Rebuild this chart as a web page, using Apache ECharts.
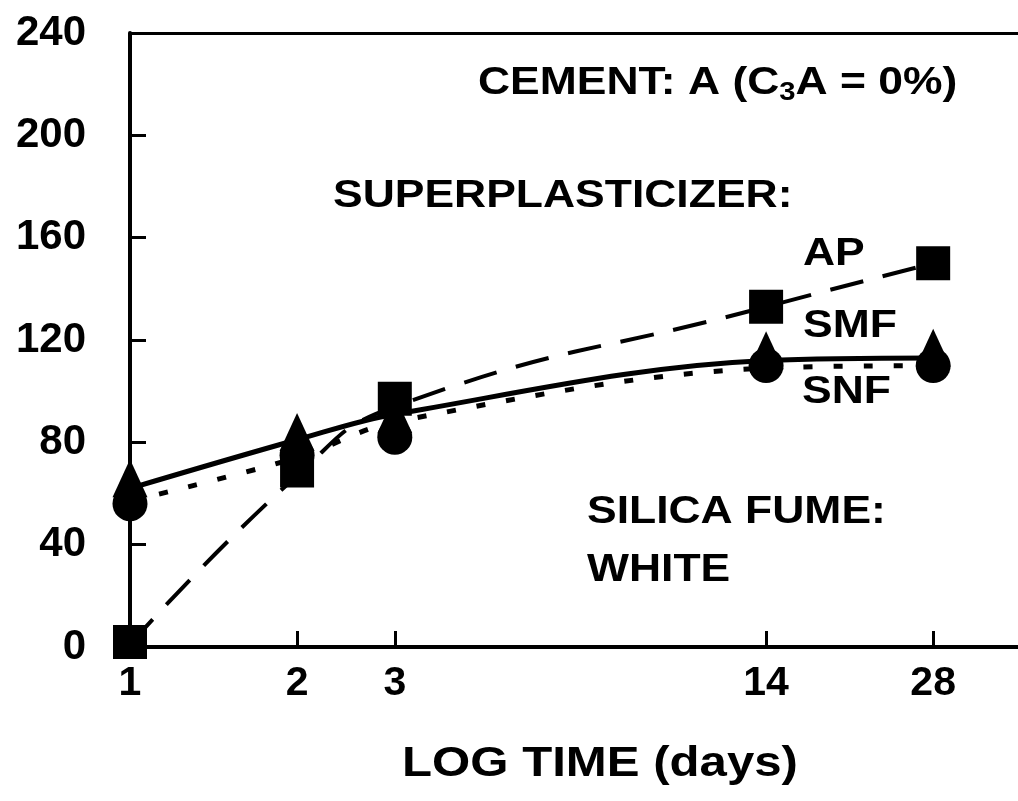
<!DOCTYPE html>
<html>
<head>
<meta charset="utf-8">
<script src="https://cdn.jsdelivr.net/npm/echarts@6/dist/echarts.min.js"></script>
<style>
  html, body { margin: 0; padding: 0; background: #fff; }
  #chart { width: 1018px; height: 801px; }
</style>
</head>
<body>
<div id="chart"></div>
<script>
// test ages (days), plotted on a log axis
var days = [1, 2, 3, 14, 28]

// measured points
var apPoints = [2, 69, 97, 133, 150]
var smfPoints = [66, 84, 91, 116, 117]
var snfPoints = [56, 75, 82, 110, 110]

// fitted curves read at the same ages
var apCurve = [1, 67, 94, 133, 150]
var smfCurve = [62, 81, 91, 112, 113]
var snfCurve = [57, 74, 88, 109, 110]

var yTicks = [0, 40, 80, 120, 160, 200, 240]

var FONT = '"Liberation Sans", Arial, sans-serif'

function pairs(vals) {
    return days.map(function (d, i) { return [Math.log10(d), vals[i]] })
}

function label(txt, x, y, align, size) {
    return {
        type: 'text',
        x: x,
        y: y,
        scaleX: 1.17,
        style: {
            text: txt,
            fill: '#000',
            font: 'bold ' + (size || 38) + 'px ' + FONT,
            align: align || 'left',
            verticalAlign: 'middle'
        }
    }
}

var echart = echarts.init(document.getElementById('chart'))

var option = {
    backgroundColor: '#fff',
    animation: false,
    grid: {
        left: 130,
        right: 0,
        top: 33,
        bottom: 154,
        containLabel: false,
        outerBoundsMode: 'none'
    },
    xAxis: [
        {
            type: 'value',
            min: 0,
            max: 1.6,
            axisLine: { lineStyle: { color: '#000', width: 4 } },
            axisTick: {
                inside: true,
                length: 16,
                lineStyle: { color: '#000', width: 3 },
                customValues: days.map(function (d) { return Math.log10(d) })
            },
            axisLabel: {
                customValues: days.map(function (d) { return Math.log10(d) }),
                formatter: function (v) { return Math.round(Math.pow(10, v)) },
                color: '#000',
                fontFamily: FONT,
                fontWeight: 'bold',
                fontSize: 41,
                margin: 16
            },
            splitLine: { show: false }
        },
        {
            type: 'value',
            position: 'top',
            min: 0,
            max: 1.6,
            axisLine: { show: true, lineStyle: { color: '#000', width: 3 } },
            axisTick: { show: false },
            axisLabel: { show: false },
            splitLine: { show: false }
        }
    ],
    yAxis: {
        type: 'value',
        min: yTicks[0],
        max: yTicks[yTicks.length - 1],
        interval: 40,
        axisLine: { show: true, lineStyle: { color: '#000', width: 4 } },
        axisTick: { show: true, inside: true, length: 16, lineStyle: { color: '#000', width: 3 } },
        axisLabel: {
            color: '#000',
            fontFamily: FONT,
            fontWeight: 'bold',
            fontSize: 42,
            margin: 44
        },
        splitLine: { show: false }
    },
    graphic: [
        {
            type: 'text',
            x: 478,
            y: 84,
            scaleX: 1.17,
            style: {
                text: '{n|CEMENT: A (C}{s|3}{n|A = 0%)}',
                fill: '#000',
                align: 'left',
                verticalAlign: 'middle',
                rich: {
                    n: { font: 'bold 38px ' + FONT, fill: '#000', lineHeight: 44 },
                    s: { font: 'bold 25px ' + FONT, fill: '#000', lineHeight: 30, verticalAlign: 'bottom' }
                }
            }
        },
        label('SUPERPLASTICIZER:', 333, 197),
        label('AP', 803, 255),
        label('SMF', 803, 327),
        label('SNF', 802, 393),
        label('SILICA FUME:', 587, 513),
        label('WHITE', 587, 571),
        label('LOG TIME (days)', 600, 764, 'center', 42)
    ],
    series: [
        {
            name: 'AP fit',
            type: 'line',
            data: pairs(apCurve),
            smooth: 0.5,
            showSymbol: false,
            lineStyle: { color: '#000', width: 4, type: [34, 20] }
        },
        {
            name: 'SMF fit',
            type: 'line',
            data: pairs(smfCurve),
            smooth: 0.35,
            showSymbol: false,
            lineStyle: { color: '#000', width: 5, type: 'solid' }
        },
        {
            name: 'SNF fit',
            type: 'line',
            data: pairs(snfCurve),
            smooth: 0.35,
            showSymbol: false,
            lineStyle: { color: '#000', width: 5, type: [9, 21] }
        },
        {
            name: 'SNF',
            type: 'scatter',
            data: pairs(snfPoints),
            symbol: 'circle',
            symbolSize: 35,
            clip: false,
            itemStyle: { color: '#000', opacity: 1 }
        },
        {
            name: 'SMF',
            type: 'scatter',
            data: pairs(smfPoints),
            symbol: 'triangle',
            symbolSize: [35, 38],
            clip: false,
            itemStyle: { color: '#000', opacity: 1 }
        },
        {
            name: 'AP',
            type: 'scatter',
            data: pairs(apPoints),
            symbol: 'rect',
            symbolSize: 34,
            clip: false,
            itemStyle: { color: '#000', opacity: 1 }
        }
    ]
}

echart.setOption(option)
</script>
</body>
</html>
